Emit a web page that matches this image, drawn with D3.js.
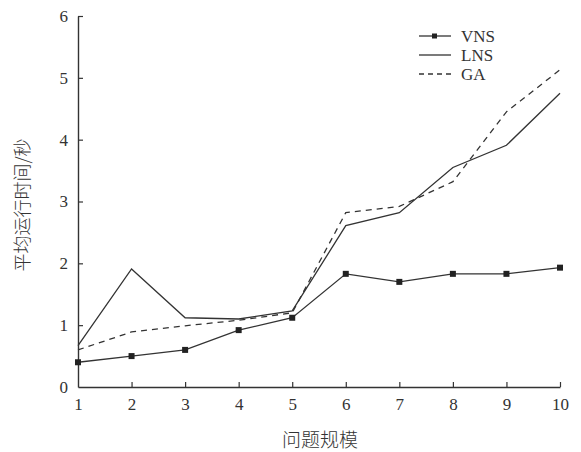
<!DOCTYPE html>
<html>
<head>
<meta charset="utf-8">
<script src="https://cdn.jsdelivr.net/npm/d3@7"></script>
<style>
  body { margin:0; background:#fff; }
  svg text { fill:#333; }
  .tick text { font-family:"Liberation Serif", serif; font-size:17px; }
</style>
</head>
<body>
<svg id="chart" width="581" height="452"></svg>
<script>
const sizes = [1, 2, 3, 4, 5, 6, 7, 8, 9, 10];
const vns = [0.40, 0.50, 0.60, 0.92, 1.12, 1.83, 1.70, 1.83, 1.83, 1.93];
const lns = [0.67, 1.91, 1.12, 1.10, 1.23, 2.61, 2.82, 3.55, 3.91, 4.75];
const ga  = [0.60, 0.89, 0.99, 1.08, 1.20, 2.82, 2.92, 3.32, 4.45, 5.13];
const yTicks = [0, 1, 2, 3, 4, 5, 6];

const M = { top:16, right:21, bottom:65, left:78 };
const W = 581, H = 452;
const ink = '#333';

const svg = d3.select('#chart');
const x = d3.scaleLinear().domain([1, 10]).range([M.left, W - M.right]);
const y = d3.scaleLinear().domain([0, 6]).range([H - M.bottom, M.top]);

// axes, ticks pointing inward
const xAxis = svg.append('g')
  .attr('transform', `translate(0,${y(0)})`)
  .call(d3.axisBottom(x).tickValues(sizes).tickFormat(d3.format('d'))
    .tickSizeInner(-5).tickSizeOuter(0).tickPadding(11));
const yAxis = svg.append('g')
  .attr('transform', `translate(${x(1)},0)`)
  .call(d3.axisLeft(y).tickValues(yTicks).tickFormat(d3.format('d'))
    .tickSizeInner(-5).tickSizeOuter(0).tickPadding(10));
[xAxis, yAxis].forEach(a => {
  a.select('.domain').attr('stroke', ink).attr('stroke-width', 1.4);
  a.selectAll('.tick line').attr('stroke', ink).attr('stroke-width', 1.2);
});
xAxis.selectAll('.tick').filter(d => d === 1).select('line').remove();
yAxis.selectAll('.tick').filter(d => d === 0).select('line').remove();

const line = d3.line().x((d, i) => x(sizes[i])).y(d => y(d));

const series = [
  { name:'VNS', values:vns, dash:null, marker:true },
  { name:'LNS', values:lns, dash:null, marker:false },
  { name:'GA',  values:ga,  dash:'6,5', marker:false }
];

series.forEach(s => {
  svg.append('path')
    .attr('d', line(s.values))
    .attr('fill', 'none')
    .attr('stroke', ink)
    .attr('stroke-width', 1.3)
    .attr('stroke-dasharray', s.dash);
  if (s.marker) {
    svg.append('g').selectAll('rect')
      .data(s.values)
      .join('rect')
        .attr('x', (d, i) => x(sizes[i]) - 3)
        .attr('y', d => y(d) - 3)
        .attr('width', 6).attr('height', 6)
        .attr('fill', '#222');
  }
});

// legend
const lg = svg.append('g').attr('transform', 'translate(419,36)');
series.forEach((s, i) => {
  const row = lg.append('g').attr('transform', `translate(0,${i * 19})`);
  row.append('line')
    .attr('x1', 0).attr('x2', 32)
    .attr('stroke', ink).attr('stroke-width', 1.3)
    .attr('stroke-dasharray', s.dash ? '5,4' : null);
  if (s.marker) row.append('rect').attr('x', 13).attr('y', -2.5).attr('width', 5).attr('height', 5).attr('fill', '#222');
  row.append('text')
    .attr('x', 42).attr('dy', '0.35em')
    .style('font-family', '"Liberation Serif", serif')
    .style('font-size', '17px')
    .text(s.name);
});

// axis titles
svg.append('text')
  .attr('x', 320).attr('y', 447)
  .attr('text-anchor', 'middle')
  .style('font-family', '"Noto Sans CJK SC", sans-serif')
  .style('font-size', '19px').style('font-weight', 300)
  .text('问题规模');
svg.append('text')
  .attr('transform', 'translate(29,205) rotate(-90)')
  .attr('text-anchor', 'middle')
  .style('font-family', '"Noto Sans CJK SC", sans-serif')
  .style('font-size', '18px').style('font-weight', 300)
  .text('平均运行时间/秒');
</script>
</body>
</html>
